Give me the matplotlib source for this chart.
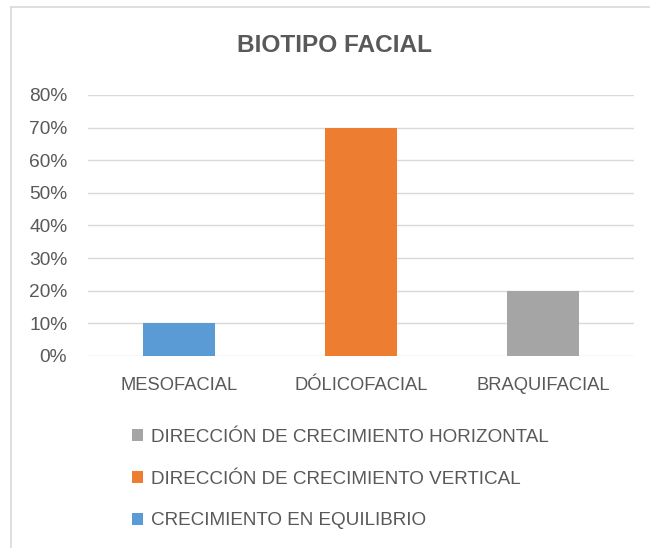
import matplotlib
matplotlib.use("Agg")
import matplotlib.pyplot as plt
from matplotlib.lines import Line2D
from matplotlib.ticker import FuncFormatter

categories = ["MESOFACIAL", "DÓLICOFACIAL", "BRAQUIFACIAL"]
values = [0.10, 0.70, 0.20]
legend_labels = ["CRECIMIENTO EN EQUILIBRIO",
                 "DIRECCIÓN DE CRECIMIENTO VERTICAL",
                 "DIRECCIÓN DE CRECIMIENTO HORIZONTAL"]
colors = ["#5B9BD5", "#ED7D31", "#A5A5A5"]
yticks = [0, 0.1, 0.2, 0.3, 0.4, 0.5, 0.6, 0.7, 0.8]
title = "BIOTIPO FACIAL"

plt.rcParams['font.family'] = ['Liberation Sans', 'DejaVu Sans']
TXT = "#595959"
GRID = "#D9D9D9"

W, H = 650, 548
fig = plt.figure(figsize=(W / 100, H / 100), dpi=100)
ax = fig.add_axes([88 / W, 1 - 356 / H, (634 - 88) / W, (356 - 95) / H])

handles = []
for i, (c, v, col, lab) in enumerate(zip(categories, values, colors, legend_labels)):
    b = ax.bar(i, v, width=0.4, color=col, label=lab, zorder=3)
    handles.append(b)

ax.set_xlim(-0.5, 2.5)
ax.set_ylim(0, 0.8)
ax.set_yticks(yticks)
ax.yaxis.set_major_formatter(FuncFormatter(lambda v, p: f"{round(v * 100)}%"))
ax.set_xticks(range(len(categories)))
ax.set_xticklabels(categories)
ax.grid(axis='y', color=GRID, linewidth=1, zorder=0)
for s in ax.spines.values():
    s.set_visible(False)
ax.tick_params(axis='both', length=0, labelcolor=TXT)
ax.tick_params(axis='x', pad=15, labelsize=13.2)
ax.tick_params(axis='y', pad=15, labelsize=13.8)

fig.text(335 / W, 1 - 45 / H, title, ha='center', va='center',
         fontsize=17.6, fontweight='bold', color=TXT)

leg = fig.legend(handles[::-1], legend_labels[::-1], loc='upper left',
                 bbox_to_anchor=(132 / W, 1 - 429 / H), frameon=False,
                 fontsize=13.6, borderpad=0, borderaxespad=0,
                 handlelength=0.58, handleheight=0.58, handletextpad=0.45,
                 labelspacing=1.31, labelcolor=TXT)

fig.add_artist(Line2D([11 / W, 11 / W], [1 - 7 / H, -0.1], transform=fig.transFigure,
                      color=GRID, linewidth=1.2))
fig.add_artist(Line2D([11 / W, 1.1], [1 - 7 / H, 1 - 7 / H], transform=fig.transFigure,
                      color=GRID, linewidth=1.2))

fig.savefig("out.png", dpi=100)
